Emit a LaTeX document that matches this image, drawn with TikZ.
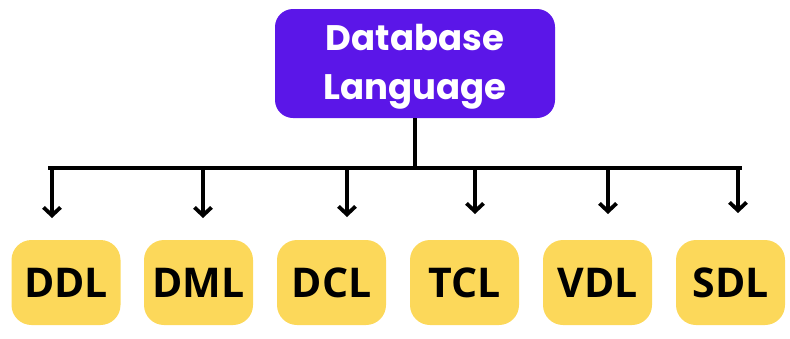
\documentclass[tikz,border=0pt]{standalone}
\usepackage{fontspec}
\setmainfont{Open Sans}
\newfontfamily\poppins{Poppins}
\usetikzlibrary{arrows.meta}
\definecolor{topc}{HTML}{5B16E8}
\definecolor{boxc}{HTML}{FCD85A}
\tikzset{
  topbox/.style={fill=topc, rounded corners=18pt, minimum width=280pt, minimum height=109pt, inner sep=0pt},
  toptext/.style={text=white, inner sep=0pt, font=\poppins\bfseries\fontsize{35.5}{49}\selectfont, align=center},
  leaf/.style={fill=boxc, rounded corners=20pt, minimum width=109pt, minimum height=85pt, inner sep=0pt, font=\bfseries\fontsize{41}{48}\selectfont},
  conn/.style={line width=4.2pt, draw=black},
  arr/.style={conn, -{Straight Barb[length=8pt,width=17pt,line width=3.8pt]}}
}
\begin{document}
\begin{tikzpicture}[x=1pt,y=-1pt]
\useasboundingbox (0,0) rectangle (790,338);
\node[topbox] (top) at (415,63.5) {};
\node[toptext] (toplabel) at (415,67) {Database\\Language};
\node[leaf] (ddl) at (66,282.5) {DDL};
\node[leaf] (dml) at (198.5,282.5) {DML};
\node[leaf] (dcl) at (331.5,282.5) {DCL};
\node[leaf] (tcl) at (464.5,282.5) {TCL};
\node[leaf] (vdl) at (597.5,282.5) {VDL};
\node[leaf] (sdl) at (730.5,282.5) {SDL};
\coordinate (j) at (415,168);
\coordinate (l) at (50,168);
\coordinate (r) at (740,168);
\draw[conn] (top.south) -- (j);
\draw[conn, line cap=rect] (l) -- (r);
\draw[arr] (52,168) -- (52,218);
\draw[arr] (203,168) -- (203,218);
\draw[arr] (347,168) -- (347,217);
\draw[arr] (475,168) -- (475,214);
\draw[arr] (608,168) -- (608,214);
\draw[arr] (738,168) -- (738,213);
\end{tikzpicture}
\end{document}
